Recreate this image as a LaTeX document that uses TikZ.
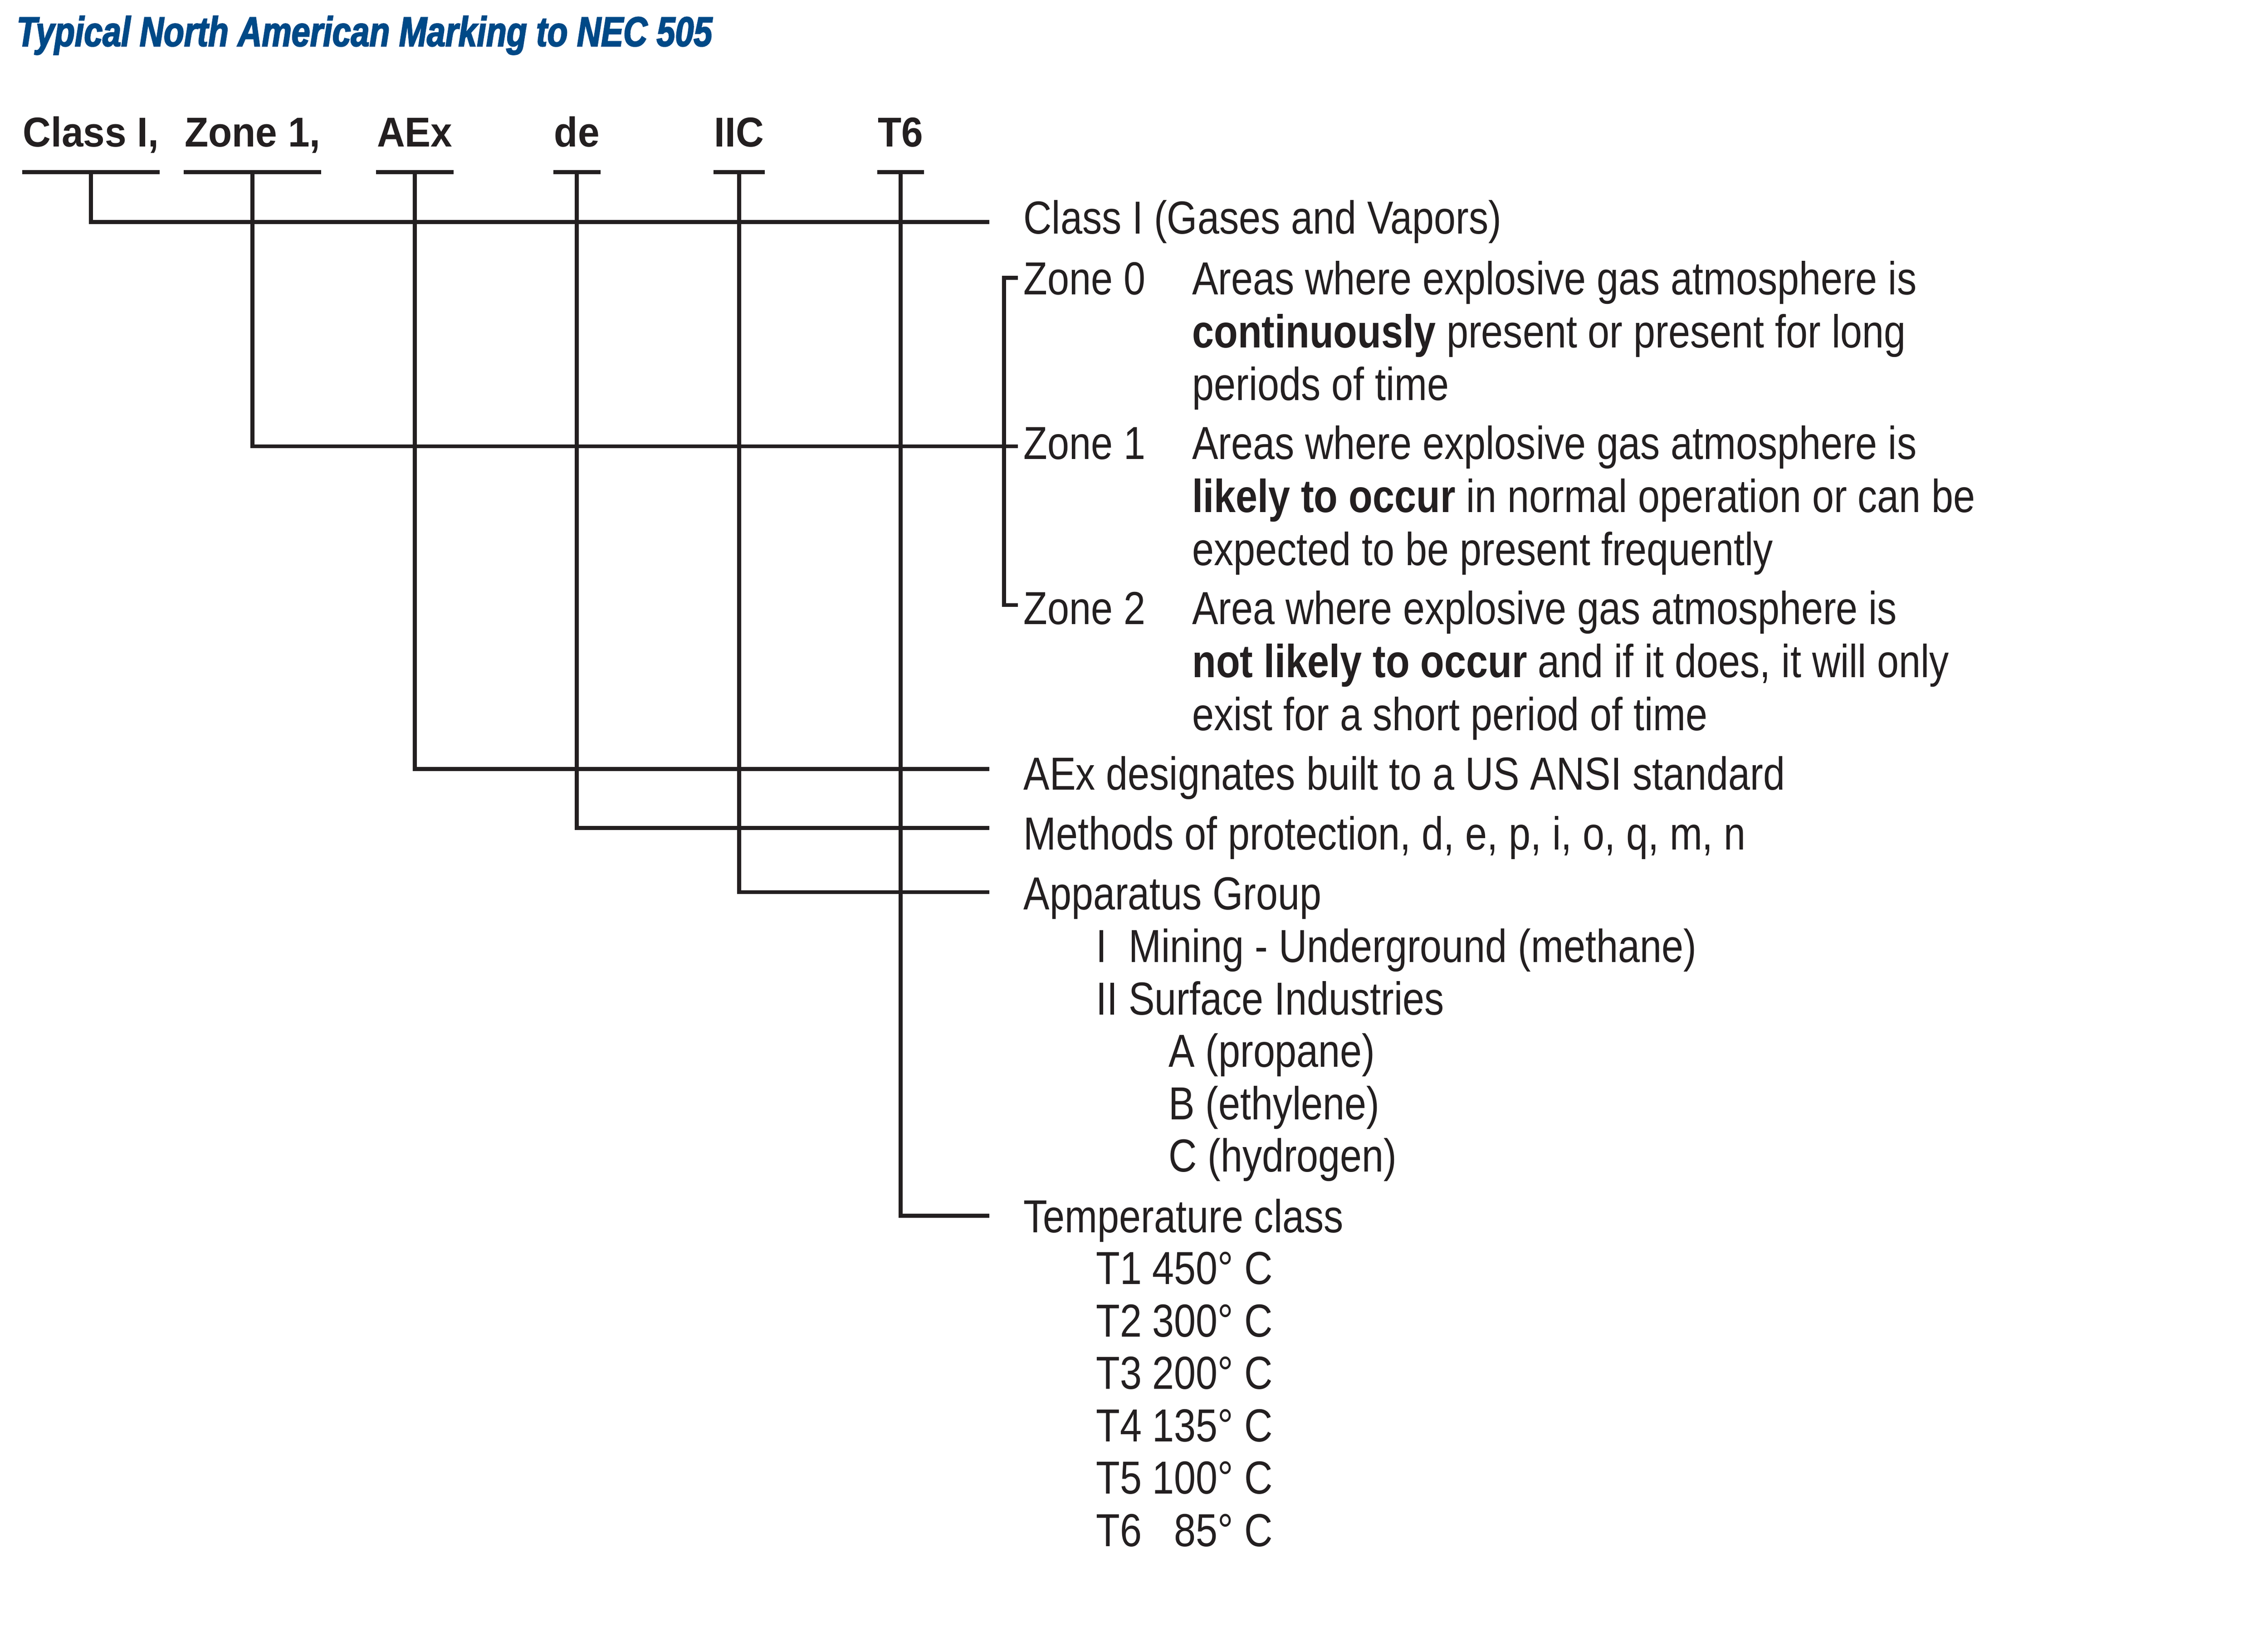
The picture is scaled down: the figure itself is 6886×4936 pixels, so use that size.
\documentclass[tikz,border=0pt]{standalone}
\usepackage{fontspec}
\setmainfont{Liberation Sans}[FakeStretch=0.845]
\newfontfamily\codefont{Liberation Sans}[FakeStretch=0.93]
\newfontfamily\headfont{Liberation Sans}[FakeStretch=0.80,FakeBold=2.5]
\definecolor{inkblack}{RGB}{35,31,32}
\definecolor{necblue}{RGB}{0,73,135}

\begin{document}
\begin{tikzpicture}
	[x=0.025mm,y=-0.025mm,
	wire/.style={draw=inkblack,line width=0.86pt,line join=miter},
	code/.style={anchor=base west,inner sep=0pt,text=inkblack,font=\codefont\bfseries\fontsize{9}{10}\selectfont},
	body/.style={anchor=base west,inner sep=0pt,text=inkblack,font=\fontsize{10}{12}\selectfont},
	heading/.style={anchor=base west,inner sep=0pt,text=necblue,font=\headfont\bfseries\itshape\fontsize{9}{10}\selectfont}]

	\useasboundingbox (0,0) rectangle (6886,4936);

	\node[heading] (title) at (48,140) {Typical North American Marking to NEC 505};

	% the marking itself
	\node[code] (cls) at (67,445)   {Class I,};
	\node[code] (zn)  at (558,445)  {Zone 1,};
	\node[code] (aex) at (1142,445) {AEx};
	\node[code] (prt) at (1680,445) {de};
	\node[code] (grp) at (2166,445) {IIC};
	\node[code] (tcl) at (2663,445) {T6};

	\coordinate (ul) at (0,523);
	\foreach \n in {cls,zn,aex,prt,grp,tcl}
		\draw[wire] (\n.west |- ul) -- (\n.east |- ul);

	% meanings
	\node[body] (clsd) at (3105,710) {Class I (Gases and Vapors)};

	\node[body] (zn0) at (3105,894)  {Zone 0};
	\node[body] (zn1) at (3105,1394) {Zone 1};
	\node[body] (zn2) at (3105,1896) {Zone 2};
	\foreach \txt [count=\i] in {Areas where explosive gas atmosphere is,
			{\textbf{continuously} present or present for long},
			periods of time}
		\node[body] (zd0-\i) at (3617,{894+161*(\i-1)}) {\txt};
	\foreach \txt [count=\i] in {Areas where explosive gas atmosphere is,
			{\textbf{likely to occur} in normal operation or can be},
			expected to be present frequently}
		\node[body] (zd1-\i) at (3617,{1394+161*(\i-1)}) {\txt};
	\foreach \txt [count=\i] in {Area where explosive gas atmosphere is,
			{\textbf{not likely to occur} and if it does, it will only},
			exist for a short period of time}
		\node[body] (zd2-\i) at (3617,{1896+161*(\i-1)}) {\txt};

	\node[body] (aexd) at (3105,2398) {AEx designates built to a US ANSI standard};
	\node[body] (prtd) at (3105,2580) {Methods of protection,\ d,\ e,\ p,\ i,\ o,\ q,\ m,\ n};
	\node[body] (grpd) at (3105,2762) {Apparatus Group};
	\node[body] (grp1) at (3325,2922) {I\phantom{I} Mining - Underground (methane)};
	\node[body] (grp2) at (3325,3081) {II Surface Industries};
	\foreach \txt [count=\i] in {A (propane),B (ethylene),C (hydrogen)}
		\node[body] (gas-\i) at (3545,{3240+159*(\i-1)}) {\txt};

	\node[body] (tcld) at (3105,3742) {Temperature class};
	\foreach \txt [count=\i] in {T1 450° C,T2 300° C,T3 200° C,T4 135° C,T5 100° C,T6\phantom{1} 85° C}
		\node[body] (tc-\i) at (3325,{3900+159*(\i-1)}) {\txt};

	% line ends
	\coordinate (clsend) at (3004,674);
	\coordinate (znend)  at (3090,1355);
	\coordinate (aexend) at (3004,2335);
	\coordinate (prtend) at (3004,2514);
	\coordinate (grpend) at (3004,2709);
	\coordinate (tclend) at (3004,3691);
	\coordinate (brx)    at (3048,0);
	\coordinate (brtop)  at (3090,844);
	\coordinate (brbot)  at (3090,1837);

	\foreach \n in {cls,zn,aex,prt,grp,tcl}
		\draw[wire] (\n.south |- ul) |- (\n end);
	\draw[wire] (brtop) -- (brtop -| brx) -- (brbot -| brx) -- (brbot);
\end{tikzpicture}
\end{document}
